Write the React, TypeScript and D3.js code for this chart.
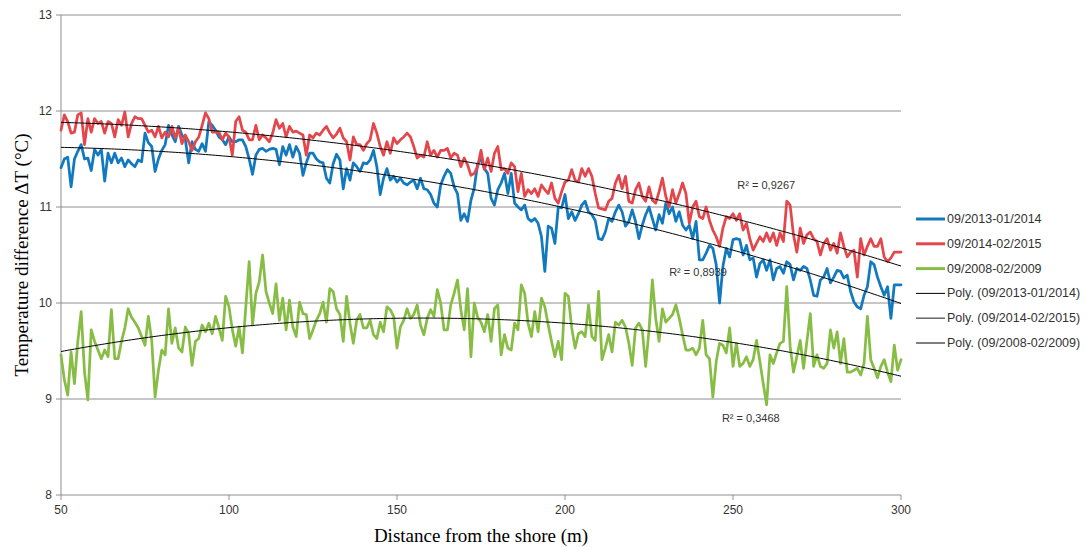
import React from "react";
import * as d3 from "d3";

// ---- data (distance 50..300 m, step 1 m) ----
const distanceStart = 50;
const distanceEnd = 300;

const series2013: number[] = [
  11.41, 11.5, 11.52, 11.21, 11.5, 11.58, 11.65, 11.5, 11.51, 11.38,
  11.6, 11.54, 11.6, 11.27, 11.56, 11.46, 11.56, 11.46, 11.51, 11.42,
  11.49, 11.45, 11.42, 11.49, 11.47, 11.77, 11.67, 11.63, 11.37, 11.5,
  11.59, 11.65, 11.85, 11.75, 11.68, 11.84, 11.75, 11.7, 11.46, 11.68,
  11.6, 11.58, 11.66, 11.58, 11.89, 11.85, 11.8, 11.73, 11.7, 11.65,
  11.73, 11.68, 11.68, 11.7, 11.7, 11.63, 11.5, 11.34, 11.54, 11.6,
  11.61, 11.58, 11.6, 11.61, 11.6, 11.44, 11.63, 11.54, 11.65, 11.52,
  11.63, 11.56, 11.33, 11.46, 11.56, 11.56, 11.5, 11.47, 11.46, 11.3,
  11.25, 11.45, 11.55, 11.49, 11.19, 11.4, 11.28, 11.46, 11.42, 11.37,
  11.46, 11.45, 11.49, 11.59, 11.42, 11.13, 11.3, 11.4, 11.28, 11.32,
  11.26, 11.3, 11.25, 11.23, 11.26, 11.28, 11.19, 11.3, 11.19, 11.18,
  11.13, 11.04, 11.0, 11.23, 11.32, 11.39, 11.35, 11.21, 11.14, 10.86,
  10.93, 10.85, 11.07, 11.2, 11.45, 11.5, 11.4, 11.35, 11.09, 11.02,
  11.18, 11.25, 11.35, 11.14, 11.35, 11.04, 11.0, 10.97, 11.02, 10.88,
  10.85, 10.88, 10.83, 10.69, 10.33, 10.8, 10.78, 10.62, 11.0, 10.99,
  11.13, 10.88, 10.95, 10.86, 10.93, 11.02, 11.06, 10.95, 10.92, 10.86,
  10.67, 10.66, 10.74, 10.88, 10.85, 10.95, 11.02, 10.95, 10.8, 10.85,
  10.97, 10.85, 10.67, 10.81, 10.92, 11.0, 10.88, 10.76, 10.92, 10.83,
  11.04, 10.93, 11.0, 10.85, 10.95, 10.81, 10.76, 10.81, 10.67, 10.85,
  10.45, 10.45, 10.52, 10.6, 10.57, 10.4, 10.0, 10.38, 10.57, 10.48,
  10.66, 10.67, 10.66, 10.5, 10.6, 10.45, 10.47, 10.27, 10.41, 10.45,
  10.34, 10.45, 10.24, 10.36, 10.38, 10.31, 10.43, 10.4, 10.24, 10.36,
  10.34, 10.38, 10.36, 10.24, 10.08, 10.07, 10.24, 10.27, 10.36, 10.21,
  10.27, 10.34, 10.33, 10.26, 10.29, 10.12, 10.01, 9.96, 9.94, 10.08,
  10.17, 10.43, 10.4, 10.27, 10.17, 10.08, 10.17, 9.84, 10.19, 10.19,
  10.19,
];

const series2014: number[] = [
  11.8, 11.96, 11.89, 11.77, 11.78, 11.96, 11.98, 11.65, 11.92, 11.78,
  11.92, 11.87, 11.89, 11.77, 11.89, 11.87, 11.73, 11.91, 11.85, 11.99,
  11.73, 11.87, 11.94, 11.92, 11.92, 11.85, 11.78, 11.8, 11.73, 11.84,
  11.72, 11.78, 11.73, 11.84, 11.72, 11.82, 11.66, 11.75, 11.68, 11.59,
  11.68, 11.73, 11.85, 11.98, 11.92, 11.78, 11.78, 11.78, 11.7, 11.77,
  11.73, 11.54, 11.89, 11.94, 11.8, 11.78, 11.7, 11.7, 11.85, 11.7,
  11.75, 11.72, 11.68, 11.77, 11.91, 11.82, 11.87, 11.73, 11.84, 11.78,
  11.79, 11.77, 11.75, 11.54, 11.75, 11.72, 11.77, 11.75, 11.8, 11.84,
  11.77, 11.72, 11.76, 11.82, 11.72, 11.68, 11.49, 11.73, 11.65, 11.65,
  11.59, 11.66, 11.7, 11.87, 11.77, 11.63, 11.54, 11.68, 11.56, 11.72,
  11.66, 11.7, 11.73, 11.77, 11.73, 11.63, 11.51, 11.54, 11.52, 11.68,
  11.54, 11.59, 11.52, 11.59, 11.59, 11.61, 11.51, 11.56, 11.54, 11.42,
  11.51, 11.44, 11.33, 11.35, 11.42, 11.59, 11.39, 11.51, 11.37, 11.56,
  11.63, 11.39, 11.4, 11.35, 11.46, 11.42, 11.16, 11.35, 11.11, 11.18,
  11.14, 11.19, 11.11, 11.23, 11.18, 11.14, 11.25, 11.09, 11.04, 11.16,
  11.26, 11.28, 11.39, 11.28, 11.26, 11.4, 11.32, 11.4, 11.32, 11.14,
  10.99, 10.98, 10.97, 11.06, 11.09, 11.25, 11.33, 11.19, 11.32, 11.06,
  11.04, 11.18, 11.25, 11.11, 11.06, 11.21, 11.07, 11.04, 11.16, 11.3,
  11.11, 11.0, 11.18, 11.04, 11.14, 11.25, 11.14, 10.83, 11.0, 11.06,
  10.9, 10.88, 11.0, 10.86, 10.76, 10.69, 10.59, 10.78, 10.9, 10.88,
  10.93, 10.86, 10.93, 10.76, 10.83, 10.67, 10.55, 10.62, 10.69, 10.64,
  10.73, 10.64, 10.73, 10.6, 10.73, 10.64, 11.06, 11.02, 10.71, 10.53,
  10.78, 10.62, 10.71, 10.74, 10.67, 10.64, 10.5, 10.62, 10.67, 10.55,
  10.62, 10.52, 10.73, 10.59, 10.48, 10.53, 10.55, 10.27, 10.67, 10.5,
  10.59, 10.67, 10.59, 10.59, 10.67, 10.48, 10.43, 10.47, 10.53, 10.53,
  10.53,
];

const series2008: number[] = [
  9.46, 9.2, 9.04, 9.49, 9.16, 9.6, 9.91, 9.28, 8.99, 9.72,
  9.6, 9.51, 9.42, 9.51, 9.44, 9.93, 9.42, 9.42, 9.6, 9.74,
  9.94, 9.85, 9.8, 9.74, 9.65, 9.56, 9.86, 9.61, 9.02, 9.3,
  9.51, 9.46, 9.94, 9.58, 9.74, 9.53, 9.49, 9.75, 9.68, 9.35,
  9.6, 9.63, 9.77, 9.7, 9.79, 9.68, 9.86, 9.74, 9.61, 10.07,
  9.96, 9.72, 9.55, 9.75, 9.48, 9.96, 10.43, 9.77, 10.1, 10.22,
  10.5, 10.12, 10.0, 9.89, 10.2, 9.82, 10.05, 9.72, 10.03, 9.75,
  9.65, 10.01, 9.89, 9.88, 9.63, 9.72, 9.82, 9.89, 10.01, 9.8,
  10.15, 10.12, 9.94, 9.88, 9.6, 10.07, 9.79, 9.58, 9.82, 9.88,
  9.74, 9.74, 9.82, 9.67, 9.63, 9.8, 9.7, 9.96, 9.93, 9.86,
  9.53, 9.75, 9.82, 9.94, 9.84, 9.88, 9.98, 9.77, 9.67, 9.84,
  9.93, 9.86, 10.14, 10.0, 9.72, 9.72, 9.98, 10.1, 10.24, 9.93,
  9.72, 10.15, 9.44, 10.0, 9.85, 9.8, 9.7, 9.88, 9.6, 9.94,
  9.98, 9.46, 9.67, 9.53, 9.51, 9.79, 9.72, 10.19, 10.1, 9.79,
  9.65, 9.91, 9.7, 10.05, 9.96, 9.77, 9.6, 9.44, 9.6, 9.41,
  10.1, 10.07, 9.74, 9.53, 9.68, 9.7, 9.65, 9.98, 9.65, 9.61,
  10.12, 9.41, 9.53, 9.67, 9.49, 9.8, 9.77, 9.82, 9.75, 9.58,
  9.35, 9.74, 9.79, 9.72, 9.34, 9.72, 10.24, 9.84, 9.6, 9.94,
  9.8, 9.84, 9.88, 9.98, 9.84, 9.67, 9.51, 9.51, 9.53, 9.46,
  9.53, 9.82, 9.46, 9.42, 9.02, 9.39, 9.58, 9.56, 9.48, 9.74,
  9.34, 9.58, 9.34, 9.37, 9.44, 9.34, 9.41, 9.61, 9.39, 9.16,
  8.94, 9.46, 9.37, 9.48, 9.58, 9.6, 10.17, 9.55, 9.28, 9.44,
  9.61, 9.32, 9.6, 9.89, 9.34, 9.46, 9.34, 9.32, 9.37, 9.72,
  9.53, 9.7, 9.37, 9.63, 9.28, 9.28, 9.3, 9.32, 9.25, 9.37,
  9.86, 9.41, 9.32, 9.22, 9.34, 9.41, 9.28, 9.18, 9.56, 9.3,
  9.41,
];

const seriesNames = ["09/2013-01/2014", "09/2014-02/2015", "09/2008-02/2009"];
const seriesColors = ["#1279bf", "#e4474b", "#88bd45"];
const r2Labels = ["R² = 0,8939", "R² = 0,9267", "R² = 0,3468"];
const xTicks = [50, 100, 150, 200, 250, 300];
const yTicks = [8, 9, 10, 11, 12, 13];

// quadratic least-squares fit (Excel "Poly." order 2 trendline)
function fitQuad(xs: number[], ys: number[]) {
  const m = d3.mean(xs) as number;
  const S = [0, 0, 0, 0, 0];
  const T = [0, 0, 0];
  xs.forEach((x, i) => {
    const t = x - m;
    let p = 1;
    for (let k = 0; k < 5; k++) {
      S[k] += p;
      if (k < 3) T[k] += ys[i] * p;
      p *= t;
    }
  });
  const A = [
    [S[0], S[1], S[2], T[0]],
    [S[1], S[2], S[3], T[1]],
    [S[2], S[3], S[4], T[2]],
  ];
  for (let c = 0; c < 3; c++) {
    for (let r = c + 1; r < 3; r++) {
      const f = A[r][c] / A[c][c];
      for (let k = c; k < 4; k++) A[r][k] -= f * A[c][k];
    }
  }
  const coef = [0, 0, 0];
  for (let r = 2; r >= 0; r--) {
    let s = A[r][3];
    for (let k = r + 1; k < 3; k++) s -= A[r][k] * coef[k];
    coef[r] = s / A[r][r];
  }
  return (x: number) => {
    const t = x - m;
    return coef[0] + coef[1] * t + coef[2] * t * t;
  };
}

export default function App() {
  const W = 1086;
  const H = 547;
  const x = d3.scaleLinear().domain([distanceStart, distanceEnd]).range([61, 901]);
  const y = d3.scaleLinear().domain([8, 13]).range([495, 15]);
  const distances = d3.range(distanceStart, distanceEnd + 1);
  const all = [series2013, series2014, series2008];

  const line = d3
    .line<number>()
    .x((_, i) => x(distances[i]))
    .y((v) => y(v));

  const fits = all.map((s) => fitQuad(distances, s));
  const trendLine = (f: (v: number) => number) =>
    d3
      .line<number>()
      .x((d) => x(d))
      .y((d) => y(f(d)))(d3.range(distanceStart, distanceEnd + 0.5, 1)) as string;

  const tickFont = "'Liberation Sans', Arial, sans-serif";
  const serif = "'Liberation Serif', 'Times New Roman', serif";

  const legendItems = [
    { label: seriesNames[0], color: seriesColors[0], w: 3 },
    { label: seriesNames[1], color: seriesColors[1], w: 3 },
    { label: seriesNames[2], color: seriesColors[2], w: 3 },
    { label: `Poly. (${seriesNames[0]})`, color: "#000", w: 1 },
    { label: `Poly. (${seriesNames[1]})`, color: "#666", w: 1.5 },
    { label: `Poly. (${seriesNames[2]})`, color: "#000", w: 1 },
  ];

  // R² label anchors in data space
  const r2Pos = [
    { d: 231, v: 10.32 },
    { d: 251.3, v: 11.23 },
    { d: 246.7, v: 8.8 },
  ];

  return (
    <svg
      width={W}
      height={H}
      style={{ position: "absolute", left: 0, top: 0, background: "#fff" }}
    >
      <rect width={W} height={H} fill="#fff" />
      {/* gridlines */}
      {yTicks.slice(1).map((t) => (
        <line key={t} x1={x(50)} x2={x(300)} y1={y(t)} y2={y(t)} stroke="#8e8e8e" strokeWidth={1} />
      ))}
      {/* axes */}
      <line x1={x(50)} x2={x(300)} y1={y(8)} y2={y(8)} stroke="#8e8e8e" strokeWidth={1} />
      <line x1={x(50)} x2={x(50)} y1={y(13)} y2={y(8)} stroke="#8e8e8e" strokeWidth={1} />
      {yTicks.map((t) => (
        <g key={t}>
          <line x1={x(50) - 5} x2={x(50)} y1={y(t)} y2={y(t)} stroke="#8e8e8e" />
          <text
            x={x(50) - 9}
            y={y(t)}
            textAnchor="end"
            dominantBaseline="central"
            fontFamily={tickFont}
            fontSize={12}
            fill="#333"
          >
            {t}
          </text>
        </g>
      ))}
      {xTicks.map((t) => (
        <g key={t}>
          <line x1={x(t)} x2={x(t)} y1={y(8)} y2={y(8) + 5} stroke="#8e8e8e" />
          <text
            x={x(t)}
            y={y(8) + 15}
            textAnchor="middle"
            dominantBaseline="central"
            fontFamily={tickFont}
            fontSize={12}
            fill="#333"
          >
            {t}
          </text>
        </g>
      ))}
      {/* series */}
      {all.map((s, i) => (
        <path
          key={i}
          d={line(s) as string}
          fill="none"
          stroke={seriesColors[i]}
          strokeWidth={2.75}
          strokeLinejoin="round"
          strokeLinecap="round"
        />
      ))}
      {/* trendlines */}
      {fits.map((f, i) => (
        <path key={i} d={trendLine(f)} fill="none" stroke="#000" strokeWidth={1} />
      ))}
      {/* R² labels */}
      {r2Labels.map((l, i) => (
        <text
          key={i}
          x={x(r2Pos[i].d)}
          y={y(r2Pos[i].v)}
          dominantBaseline="central"
          fontFamily={tickFont}
          fontSize={11}
          fill="#333"
        >
          {l}
        </text>
      ))}
      {/* axis titles */}
      <text
        x={481}
        y={535}
        textAnchor="middle"
        dominantBaseline="central"
        fontFamily={serif}
        fontSize={19}
        fill="#000"
      >
        Distance from the shore (m)
      </text>
      <text
        transform={`translate(21,${(y(8) + y(13)) / 2}) rotate(-90)`}
        textAnchor="middle"
        dominantBaseline="central"
        fontFamily={serif}
        fontSize={19}
        fill="#000"
      >
        Temperature difference ΔT (°C)
      </text>
      {/* legend */}
      {legendItems.map((it, i) => {
        const ly = 219 + i * 24.8;
        return (
          <g key={i}>
            <line x1={916} x2={945} y1={ly} y2={ly} stroke={it.color} strokeWidth={it.w} />
            <text
              x={947}
              y={ly}
              dominantBaseline="central"
              fontFamily={tickFont}
              fontSize={12.5}
              fill="#333"
            >
              {it.label}
            </text>
          </g>
        );
      })}
    </svg>
  );
}
